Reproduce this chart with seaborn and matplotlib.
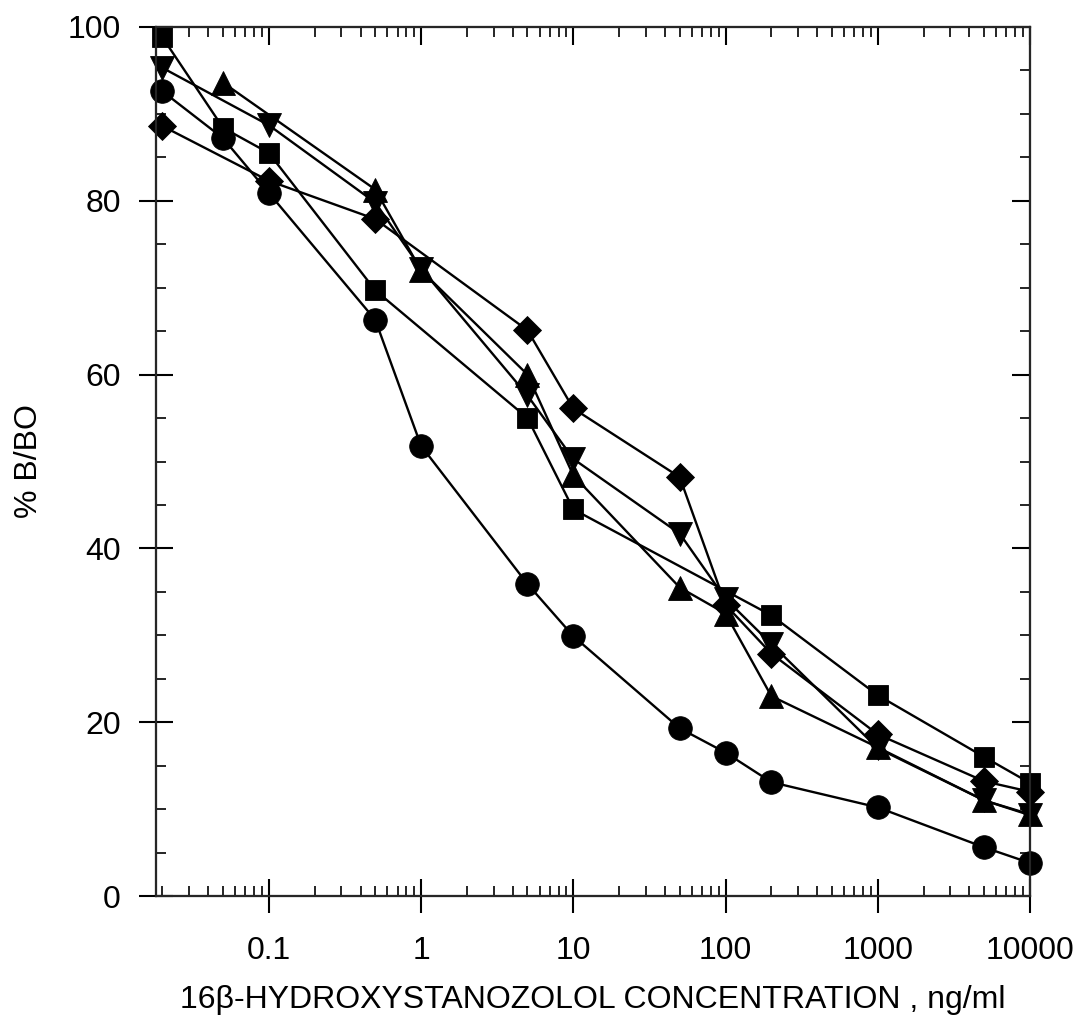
import numpy as np
import pandas as pd
import seaborn as sns
import matplotlib.pyplot as plt
from matplotlib.ticker import FixedLocator, FixedFormatter, LogLocator, MultipleLocator, NullFormatter

# data (% B/BO vs concentration, ng/ml)
circle_x = [0.02, 0.05, 0.1, 0.5, 1, 5, 10, 50, 100, 200, 1000, 5000, 10000]
circle_y = [92.6, 87.2, 80.9, 66.3, 51.8, 35.9, 29.9, 19.3, 16.5, 13.1, 10.2, 5.6, 3.8]

square_x = [0.02, 0.05, 0.1, 0.5, 5, 10, 200, 1000, 5000, 10000]
square_y = [98.8, 88.4, 85.5, 69.7, 55.0, 44.5, 32.3, 23.1, 16.0, 13.0]

tri_up_x = [0.05, 0.5, 1, 5, 10, 50, 100, 200, 1000, 5000, 10000]
tri_up_y = [93.6, 81.3, 72.0, 60.0, 48.4, 35.5, 32.5, 23.0, 17.1, 11.0, 9.4]

tri_down_x = [0.02, 0.1, 0.5, 1, 5, 10, 50, 100, 200, 1000, 5000, 10000]
tri_down_y = [95.3, 88.7, 79.8, 72.2, 57.6, 50.3, 41.7, 34.2, 29.0, 17.0, 11.0, 9.3]

diamond_x = [0.02, 0.1, 0.5, 5, 10, 50, 100, 200, 1000, 5000, 10000]
diamond_y = [88.6, 82.3, 77.9, 65.1, 56.1, 48.2, 33.5, 27.9, 18.6, 13.2, 12.0]

xtick_vals = [0.1, 1, 10, 100, 1000, 10000]
xtick_labels = ["0.1", "1", "10", "100", "1000", "10000"]
ytick_vals = [0, 20, 40, 60, 80, 100]

sns.set_style("ticks")
plt.rcParams['font.family'] = ['Liberation Sans', 'DejaVu Sans']
plt.rcParams['axes.linewidth'] = 1.5
plt.rcParams['text.color'] = 'black'
plt.rcParams['axes.labelcolor'] = 'black'

fig = plt.figure(figsize=(10.81, 10.30), dpi=100)
ax = fig.add_axes([155.5 / 1081, 1 - 896 / 1030, 874.5 / 1081, 869 / 1030])

series = [
    (diamond_x, diamond_y, "D", 14),
    (tri_up_x, tri_up_y, "^", 17),
    (tri_down_x, tri_down_y, "v", 17),
    (circle_x, circle_y, "o", 17),
    (square_x, square_y, "s", 15),
]
for xs, ys, mk, ms in series:
    df = pd.DataFrame({"conc": xs, "bbo": ys})
    sns.lineplot(data=df, x="conc", y="bbo", ax=ax, color="black", lw=1.7,
                 marker=mk, markersize=ms, markeredgewidth=0.6,
                 markeredgecolor="black", markerfacecolor="black",
                 clip_on=False, zorder=3)

ax.set_xscale("log")
ax.set_xlim(0.018, 10000)
ax.set_ylim(0, 100)

ax.xaxis.set_major_locator(FixedLocator(xtick_vals))
ax.xaxis.set_major_formatter(FixedFormatter(xtick_labels))
ax.xaxis.set_minor_locator(LogLocator(base=10, subs=np.arange(2, 10)))
ax.xaxis.set_minor_formatter(NullFormatter())
ax.yaxis.set_major_locator(FixedLocator(ytick_vals))
ax.yaxis.set_minor_locator(MultipleLocator(5))

ax.tick_params(which="major", direction="inout", length=25, width=1.5,
               labelsize=23, colors="black")
ax.tick_params(which="minor", direction="in", length=7, width=1.2, colors="black")
ax.tick_params(axis="x", which="major", pad=16)
ax.tick_params(axis="y", which="major", pad=12.5)

for s in ax.spines.values():
    s.set_visible(True)
    s.set_linewidth(1.5)
    s.set_color("black")

# ticks on top and right (inward only)
ax_top = ax.twiny()
ax_top.set_xscale("log")
ax_top.set_xlim(ax.get_xlim())
ax_top.xaxis.set_major_locator(FixedLocator(xtick_vals))
ax_top.xaxis.set_minor_locator(LogLocator(base=10, subs=np.arange(2, 10)))
ax_top.xaxis.set_major_formatter(NullFormatter())
ax_top.xaxis.set_minor_formatter(NullFormatter())
ax_top.tick_params(which="major", direction="in", length=13, width=1.5, colors="black")
ax_top.tick_params(which="minor", direction="in", length=7, width=1.2, colors="black")

ax_right = ax.twinx()
ax_right.set_ylim(ax.get_ylim())
ax_right.yaxis.set_major_locator(FixedLocator(ytick_vals))
ax_right.yaxis.set_minor_locator(MultipleLocator(5))
ax_right.yaxis.set_major_formatter(NullFormatter())
ax_right.tick_params(which="major", direction="in", length=13, width=1.5, colors="black")
ax_right.tick_params(which="minor", direction="in", length=7, width=1.2, colors="black")

ax.set_xlabel("16β-HYDROXYSTANOZOLOL CONCENTRATION , ng/ml", fontsize=23,
              labelpad=14, color="black")
ax.set_ylabel("% B/BO", fontsize=23, labelpad=17, color="black")

fig.savefig("out.png", dpi=100)
